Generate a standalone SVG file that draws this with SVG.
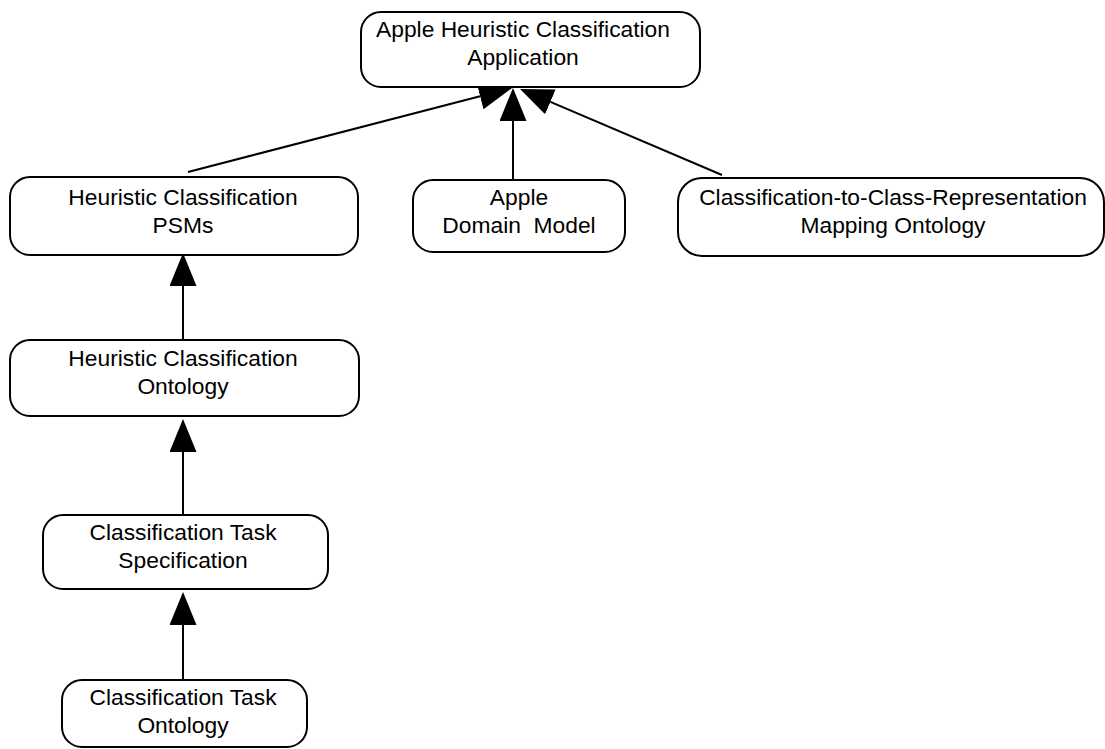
<svg xmlns="http://www.w3.org/2000/svg" width="1105" height="749" viewBox="0 0 1105 749">
  <style>
    .box { fill: #ffffff; stroke: #000000; stroke-width: 2; }
    .lbl { font-family: "Liberation Sans", Arial, sans-serif; font-size: 22.8px; fill: #000000; text-anchor: middle; white-space: pre; }
    .edge { stroke: #000000; stroke-width: 2; fill: none; marker-end: url(#head); }
  </style>
  <defs>
    <marker id="head" markerUnits="userSpaceOnUse" markerWidth="34" markerHeight="28" refX="0" refY="13.5" orient="auto">
      <path d="M0,0 L33,13.5 L0,27 Z" fill="#000000"/>
    </marker>
  </defs>
  <rect width="1105" height="749" fill="#ffffff"/>

  <g id="connectors">
    <line class="edge" x1="188" y1="172" x2="480.1" y2="96.3"/>
    <line class="edge" x1="513" y1="180" x2="513" y2="121"/>
    <line class="edge" x1="722" y1="175" x2="550.4" y2="101.9"/>
    <line class="edge" x1="183" y1="340" x2="183" y2="286"/>
    <line class="edge" x1="183" y1="515" x2="183" y2="452"/>
    <line class="edge" x1="183" y1="680" x2="183" y2="625"/>
  </g>

  <g id="node-application">
    <rect class="box" x="361" y="12" width="339" height="75" rx="20"/>
    <text class="lbl" x="523" y="37">Apple Heuristic Classification</text>
    <text class="lbl" x="523" y="65">Application</text>
  </g>

  <g id="node-psms">
    <rect class="box" x="10" y="177" width="348" height="78" rx="20"/>
    <text class="lbl" x="183" y="205">Heuristic Classification</text>
    <text class="lbl" x="183" y="233">PSMs</text>
  </g>

  <g id="node-domain-model">
    <rect class="box" x="413" y="180" width="212" height="72" rx="20"/>
    <text class="lbl" x="519" y="205">Apple</text>
    <text class="lbl" x="519" y="233">Domain  Model</text>
  </g>

  <g id="node-mapping-ontology">
    <rect class="box" x="678" y="178" width="426" height="78" rx="24"/>
    <text class="lbl" x="893" y="205">Classification-to-Class-Representation</text>
    <text class="lbl" x="893" y="233">Mapping Ontology</text>
  </g>

  <g id="node-hc-ontology">
    <rect class="box" x="10" y="340" width="349" height="76" rx="20"/>
    <text class="lbl" x="183" y="366">Heuristic Classification</text>
    <text class="lbl" x="183" y="394">Ontology</text>
  </g>

  <g id="node-task-spec">
    <rect class="box" x="43" y="515" width="285" height="74" rx="20"/>
    <text class="lbl" x="183" y="540">Classification Task</text>
    <text class="lbl" x="183" y="568">Specification</text>
  </g>

  <g id="node-task-ontology">
    <rect class="box" x="62" y="680" width="245" height="67" rx="20"/>
    <text class="lbl" x="183" y="705">Classification Task</text>
    <text class="lbl" x="183" y="733">Ontology</text>
  </g>
</svg>
